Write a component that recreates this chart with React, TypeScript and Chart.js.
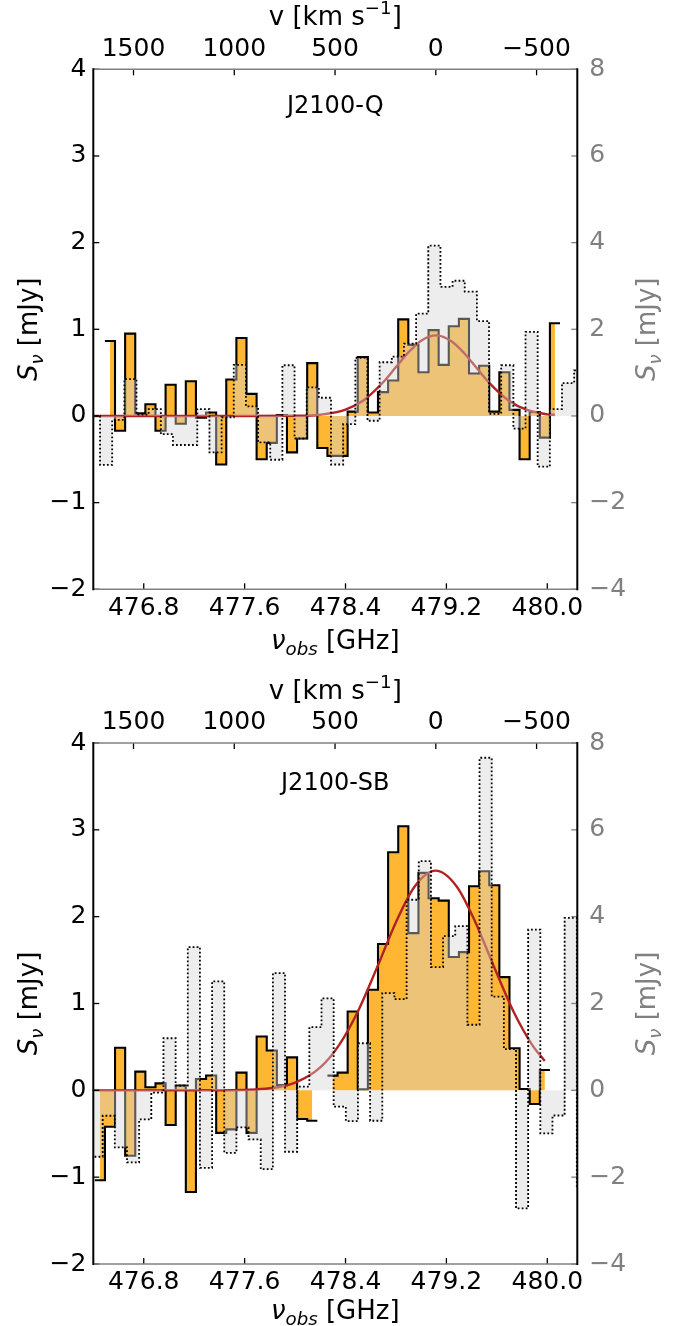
import React, { useEffect, useRef } from 'react';
import { Chart, registerables } from 'chart.js';

Chart.register(...registerables);

const FONT = "'DejaVu Sans', sans-serif";
const TICK_SIZE = 25;
const LABEL_SIZE = 26;
const GRAY_TXT = '#808080';

// ---- axes ----
const C_KMS = 299792.458;
const NU0 = 479.116; // GHz, v = 0
const X_MIN = 476.4;
const X_MAX = 480.238;
const FREQ_TICKS = [476.8, 477.6, 478.4, 479.2, 480.0];
const VEL_TICKS = [1500, 1000, 500, 0, -500];
const FLUX_TICKS = [-2, -1, 0, 1, 2, 3, 4];
const FLUX2_TICKS = [-4, -2, 0, 2, 4, 6, 8];

// ---- channel grids (GHz) ----
const ORANGE_WIDTH = 0.0802;
const GRAY_WIDTH = 0.0964;

// ---- J2100-Q ----
const Q_NAME = 'J2100-Q';
const Q_ORANGE_START = 476.492;
const Q_ORANGE = [
  0.865, -0.17, 0.95, 0.03, 0.135, -0.17, 0.36, -0.09, 0.4, -0.02,
  0.04, -0.56, 0.42, 0.9, 0.255, -0.5, -0.31, 0.01, -0.42, -0.26,
  0.61, -0.37, -0.46, -0.46, 0.05, 0.68, 0.04, 0.275, 0.41, 1.115,
  0.82, 0.505, 0.99, 0.59, 1.035, 1.12, 0.49, 0.58, 0.05, 0.505,
  0.07, -0.5, 0.045, -0.25, 1.07,
];
const Q_GRAY_START = 476.357;
const Q_GRAY = [
  0, -1.13, -0.09, 0.85, 0.03, 0.16, -0.42, -0.67, -0.67, 0.16, -0.84,
  -0.03, 1.18, 0.22, -0.61, -1.01, 1.17, -0.52, 0.66, 0.42, -1.12,
  -0.19, 1.34, -0.11, 1.24, 1.37, 1.67, 2.36, 3.93, 2.98, 3.12,
  2.87, 2.19, 0.05, 1.17, -0.29, 1.94, -1.17, 0.16, 0.76, 1.05,
];
const Q_FIT_NU = [476.4, 477.0, 477.6, 478.0, 478.2, 478.4, 478.55, 478.7, 478.8, 478.9, 479.0, 479.12, 479.24, 479.34, 479.44, 479.54, 479.69, 479.84, 480.0, 480.06];
const Q_FIT_FLUX = [0, 0, 0, 0.002, 0.014, 0.072, 0.188, 0.392, 0.564, 0.736, 0.869, 0.93, 0.863, 0.727, 0.554, 0.382, 0.182, 0.069, 0.019, 0.011];

// ---- J2100-SB ----
const SB_NAME = 'J2100-SB';
const SB_ORANGE_START = 476.412;
const SB_ORANGE: (number | null)[] = [
  -1.035, -0.42, 0.49, -0.754, 0.215, 0.035, 0.08, -0.4, 0.054, -1.17,
  0.13, 0.17, -0.49, -0.45, 0.204, -0.49, 0.62, 0.458, 0.06, 0.38,
  -0.33, -0.35, null, 0.169, 0.204, 0.908, 0.012, 1.158, 1.685, 2.742,
  3.042, 1.81, 2.504, 2.212, 2.185, 1.535, 1.592, 2.35, 2.523, 2.362,
  1.304, 0.485, 0.015, -0.158, 0.235,
];
const SB_GRAY_START = 476.378;
const SB_GRAY = [
  -1.53, -0.585, -1.315, -1.66, -0.67, -0.054, 1.2, 0.108, 3.3, -1.785,
  2.51, -1.44, -0.854, -1.13, -1.815, 2.7, -1.415, 0.085, 1.454, 2.12,
  -0.377, -0.708, 1.085, -0.7, 2.24, 2.1, 4.39, 5.28, 2.84, 3.55,
  3.78, 1.51, 7.66, 2.16, 0.95, -2.72, 3.7, -0.99, -0.58, 3.97, -2.25,
];
const SB_FIT_NU = [476.4, 477.4, 477.8, 478.0, 478.2, 478.35, 478.5, 478.65, 478.8, 478.95, 479.115, 479.28, 479.43, 479.58, 479.73, 479.88, 479.98];
const SB_FIT_FLUX = [0, 0.001, 0.024, 0.089, 0.265, 0.524, 0.914, 1.414, 1.937, 2.351, 2.53, 2.351, 1.937, 1.414, 0.914, 0.524, 0.338];

type Panel = {
  name: string;
  oStart: number; orange: (number | null)[];
  gStart: number; gray: number[];
  fitNu: number[]; fitFlux: number[];
  topH: number; botH: number;
  velTitleY: number; freqTitleY: number; nameY: number;
  velPad: number; freqPad: number;
};

const PANELS: Panel[] = [
  {
    name: Q_NAME, oStart: Q_ORANGE_START, orange: Q_ORANGE, gStart: Q_GRAY_START, gray: Q_GRAY,
    fitNu: Q_FIT_NU, fitFlux: Q_FIT_FLUX,
    topH: 69.3, botH: 73.7, velTitleY: 16, freqTitleY: 640, nameY: 104, velPad: 5, freqPad: 4,
  },
  {
    name: SB_NAME, oStart: SB_ORANGE_START, orange: SB_ORANGE, gStart: SB_GRAY_START, gray: SB_GRAY,
    fitNu: SB_FIT_NU, fitFlux: SB_FIT_FLUX,
    topH: 80, botH: 62, velTitleY: 27, freqTitleY: 647, nameY: 118, velPad: 6, freqPad: 3,
  },
];

const velOf = (nu: number) => (C_KMS * (NU0 - nu)) / NU0;
const fmtMinus = (v: number) => (v < 0 ? '\u2212' + Math.abs(v) : String(v));

function edgePoints(start: number, width: number, values: (number | null)[]) {
  const pts: { x: number; y: number | null }[] = [];
  for (let i = 0; i < values.length; i++) {
    const v = values[i];
    if (v === null) continue;
    pts.push({ x: start + i * width, y: v });
    const next = values[i + 1];
    if (next === undefined || next === null) {
      pts.push({ x: start + (i + 1) * width, y: v });
      if (next === null) pts.push({ x: start + (i + 1) * width, y: null });
    }
  }
  return pts;
}

function centerPoints(start: number, width: number, values: (number | null)[]) {
  return values.map((v, i) => ({ x: start + (i + 0.5) * width, y: v }));
}

type Run = { t: string; size: number; italic?: boolean; dy?: number };

function drawRuns(ctx: CanvasRenderingContext2D, runs: Run[], cx: number, baseline: number, color: string) {
  ctx.fillStyle = color;
  ctx.textBaseline = 'alphabetic';
  ctx.textAlign = 'left';
  const fontOf = (r: Run) => `${r.italic ? 'italic ' : ''}${r.size}px ${FONT}`;
  let total = 0;
  const widths = runs.map((r) => {
    ctx.font = fontOf(r);
    const w = ctx.measureText(r.t).width;
    total += w;
    return w;
  });
  let x = cx - total / 2;
  runs.forEach((r, i) => {
    ctx.font = fontOf(r);
    ctx.fillText(r.t, x, baseline + (r.dy || 0));
    x += widths[i];
  });
}

function makeDecor(panel: Panel) {
  return {
    id: 'decor',
    afterDatasetsDraw(chart: any) {
      const { ctx, chartArea: ca, scales } = chart;
      const L = 6;
      ctx.save();
      ctx.lineWidth = 1.3;
      ctx.strokeStyle = '#000';
      const seg = (x1: number, y1: number, x2: number, y2: number) => {
        ctx.beginPath();
        ctx.moveTo(x1, y1);
        ctx.lineTo(x2, y2);
        ctx.stroke();
      };
      FREQ_TICKS.forEach((v) => { const p = scales.x.getPixelForValue(v); seg(p, ca.bottom, p, ca.bottom - L); });
      VEL_TICKS.forEach((v) => { const p = scales.xv.getPixelForValue(v); seg(p, ca.top, p, ca.top + L); });
      FLUX_TICKS.forEach((v) => { const p = scales.y.getPixelForValue(v); seg(ca.left, p, ca.left + L, p); });
      ctx.strokeStyle = GRAY_TXT;
      FLUX2_TICKS.forEach((v) => { const p = scales.y2.getPixelForValue(v); seg(ca.right, p, ca.right - L, p); });
      // spines
      ctx.lineWidth = 1.6;
      ctx.strokeStyle = GRAY_TXT;
      seg(ca.left, ca.top, ca.right, ca.top);
      seg(ca.left, ca.bottom, ca.right, ca.bottom);
      ctx.lineWidth = 2;
      ctx.strokeStyle = '#000';
      seg(ca.left, ca.top - 1, ca.left, ca.bottom + 1);
      seg(ca.right, ca.top - 1, ca.right, ca.bottom + 1);
      ctx.restore();
    },
    afterDraw(chart: any) {
      const { ctx, chartArea: ca } = chart;
      const cx = (ca.left + ca.right) / 2;
      const cy = (ca.top + ca.bottom) / 2;
      const S = LABEL_SIZE;
      const sub = S * 0.7;
      ctx.save();
      // top: velocity
      drawRuns(ctx, [
        { t: 'v [km s', size: S },
        { t: '\u22121', size: sub, dy: -0.42 * S },
        { t: ']', size: S },
      ], cx, panel.velTitleY + 0.36 * S, '#000');
      // bottom: frequency
      drawRuns(ctx, [
        { t: '\u03bd', size: S, italic: true },
        { t: 'obs', size: sub, italic: true, dy: 0.2 * S },
        { t: ' [GHz]', size: S },
      ], cx, panel.freqTitleY + 0.36 * S, '#000');
      // left label
      const yRuns: Run[] = [
        { t: 'S', size: S, italic: true },
        { t: '\u03bd', size: sub, italic: true, dy: 0.2 * S },
        { t: ' [mJy]', size: S },
      ];
      ctx.save();
      ctx.translate(28, cy);
      ctx.rotate(-Math.PI / 2);
      drawRuns(ctx, yRuns, 0, 0.36 * S, '#000');
      ctx.restore();
      ctx.save();
      ctx.translate(646, cy);
      ctx.rotate(-Math.PI / 2);
      drawRuns(ctx, yRuns, 0, 0.36 * S, GRAY_TXT);
      ctx.restore();
      // source name
      drawRuns(ctx, [{ t: panel.name, size: 24 }], cx, panel.nameY + 0.36 * 24, '#000');
      ctx.restore();
    },
  };
}

function buildConfig(panel: Panel): any {
  const tickFont = { family: FONT, size: TICK_SIZE, lineHeight: 1.2 };
  const noGrid = { display: false, drawTicks: false };
  const noBorder = { display: false };
  return {
    type: 'line',
    data: {
      datasets: [
        {
          data: centerPoints(panel.oStart, ORANGE_WIDTH, panel.orange),
          xAxisID: 'x', yAxisID: 'y',
          stepped: 'middle', fill: 'origin',
          backgroundColor: 'rgba(255,165,0,0.8)', borderColor: 'rgba(0,0,0,0)', borderWidth: 0,
          pointRadius: 0, spanGaps: false, order: 5, clip: 0,
        },
        {
          data: edgePoints(panel.oStart, ORANGE_WIDTH, panel.orange),
          xAxisID: 'x', yAxisID: 'y',
          stepped: 'before', fill: false,
          borderColor: '#000', borderWidth: 2.1,
          pointRadius: 0, spanGaps: false, order: 4, clip: 0,
        },
        {
          data: panel.fitNu.map((x, i) => ({ x, y: panel.fitFlux[i] })),
          xAxisID: 'x', yAxisID: 'y',
          fill: false, cubicInterpolationMode: 'monotone',
          borderColor: '#b22222', borderWidth: 2.4,
          pointRadius: 0, order: 3, clip: 0,
        },
        {
          data: edgePoints(panel.gStart, GRAY_WIDTH, panel.gray),
          xAxisID: 'x', yAxisID: 'y2',
          stepped: 'before', fill: 'origin',
          backgroundColor: 'rgba(211,211,211,0.42)',
          borderColor: '#000', borderWidth: 1.8, borderDash: [1.8, 2.2],
          pointRadius: 0, spanGaps: false, order: 1, clip: 0,
        },
      ],
    },
    options: {
      responsive: false,
      animation: false,
      devicePixelRatio: 1,
      events: [],
      layout: { padding: 0 },
      plugins: { legend: { display: false }, tooltip: { enabled: false } },
      scales: {
        x: {
          type: 'linear', position: 'bottom', min: X_MIN, max: X_MAX,
          afterBuildTicks: (s: any) => { s.ticks = FREQ_TICKS.map((value) => ({ value })); },
          afterFit: (s: any) => { s.height = panel.botH; },
          ticks: { font: tickFont, color: '#000', padding: panel.freqPad, maxRotation: 0, autoSkip: false, callback: (v: any) => Number(v).toFixed(1) },
          grid: noGrid, border: noBorder,
        },
        xv: {
          type: 'linear', axis: 'x', position: 'top', reverse: true,
          min: velOf(X_MAX), max: velOf(X_MIN),
          afterBuildTicks: (s: any) => { s.ticks = VEL_TICKS.map((value) => ({ value })); },
          afterFit: (s: any) => { s.height = panel.topH; },
          ticks: { font: tickFont, color: '#000', padding: panel.velPad, maxRotation: 0, autoSkip: false, callback: (v: any) => fmtMinus(Number(v)) },
          grid: noGrid, border: noBorder,
        },
        y: {
          type: 'linear', position: 'left', min: -2, max: 4,
          afterBuildTicks: (s: any) => { s.ticks = FLUX_TICKS.map((value) => ({ value })); },
          afterFit: (s: any) => { s.width = 93.3; },
          ticks: { font: tickFont, color: '#000', padding: 7, callback: (v: any) => fmtMinus(Number(v)) },
          grid: noGrid, border: noBorder,
        },
        y2: {
          type: 'linear', position: 'right', min: -4, max: 8,
          afterBuildTicks: (s: any) => { s.ticks = FLUX2_TICKS.map((value) => ({ value })); },
          afterFit: (s: any) => { s.width = 95.7; },
          ticks: { font: tickFont, color: GRAY_TXT, padding: 12, callback: (v: any) => fmtMinus(Number(v)) },
          grid: noGrid, border: noBorder,
        },
      },
    },
    plugins: [makeDecor(panel)],
  };
}

function PanelChart({ panel }: { panel: Panel }) {
  const ref = useRef<HTMLCanvasElement>(null);
  useEffect(() => {
    if (!ref.current) return;
    const chart = new Chart(ref.current, buildConfig(panel));
    return () => chart.destroy();
  }, [panel]);
  return <canvas ref={ref} width={673} height={663} style={{ display: 'block', width: 673, height: 663 }} />;
}

export default function App() {
  useEffect(() => {
    document.body.style.margin = '0';
  }, []);
  return (
    <div style={{ position: 'absolute', left: 0, top: 0, width: 673, height: 1326, background: '#fff' }}>
      {PANELS.map((p) => (
        <PanelChart key={p.name} panel={p} />
      ))}
    </div>
  );
}
